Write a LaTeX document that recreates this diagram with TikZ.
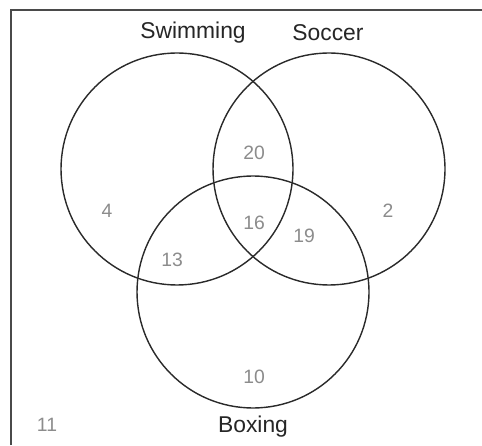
\documentclass[tikz,border=0pt]{standalone}
\usepackage{fontspec}
\setmainfont{Liberation Sans}
\usepackage{tikz}
\usetikzlibrary{positioning}
\usepackage{xcolor}
\definecolor{setgray}{HTML}{2A2A2A}
\definecolor{numgray}{HTML}{8C8C8C}
\definecolor{boxgray}{HTML}{4A4A4A}

\begin{document}
\begin{tikzpicture}[x=0.02cm, y=-0.02cm,
  setline/.style={draw=setgray, line width=0.8pt, circle, minimum size=4.64cm, inner sep=0pt},
  setname/.style={font=\fontsize{13}{15}\selectfont, text=black!85},
  count/.style={font=\fontsize{11}{13}\selectfont, text=numgray}]
  \useasboundingbox (0,0) rectangle (482,445);
  \fill[white] (0,0) rectangle (482,445);
  \draw[boxgray, line width=0.6pt] (11,445) -- (11,10) -- (482,10);
  % the three sets
  \node[setline] (swim) at (177,169) {};
  \node[setline] (socc) at (329,169) {};
  \node[setline] (box) at (253,292) {};
  \node[setname] (swimlbl) at (193,33) {Swimming};
  \node[setname] (socclbl) at (328,33) {Soccer};
  \node[setname] (boxlbl) at (253,427) {Boxing};
  % region counts
  \node[count] (nswim) at (107,211) {4};
  \node[count] (nsocc) at (388,211) {2};
  \node[count] (nbox) at (254,377) {10};
  \node[count] (nswso) at (254,153) {20};
  \node[count] (nswbo) at (172,260) {13};
  \node[count] (nsobo) at (304,236) {19};
  \node[count] (nall) at (254,223) {16};
  \node[count] (nnone) at (47,425) {11};
\end{tikzpicture}
\end{document}
